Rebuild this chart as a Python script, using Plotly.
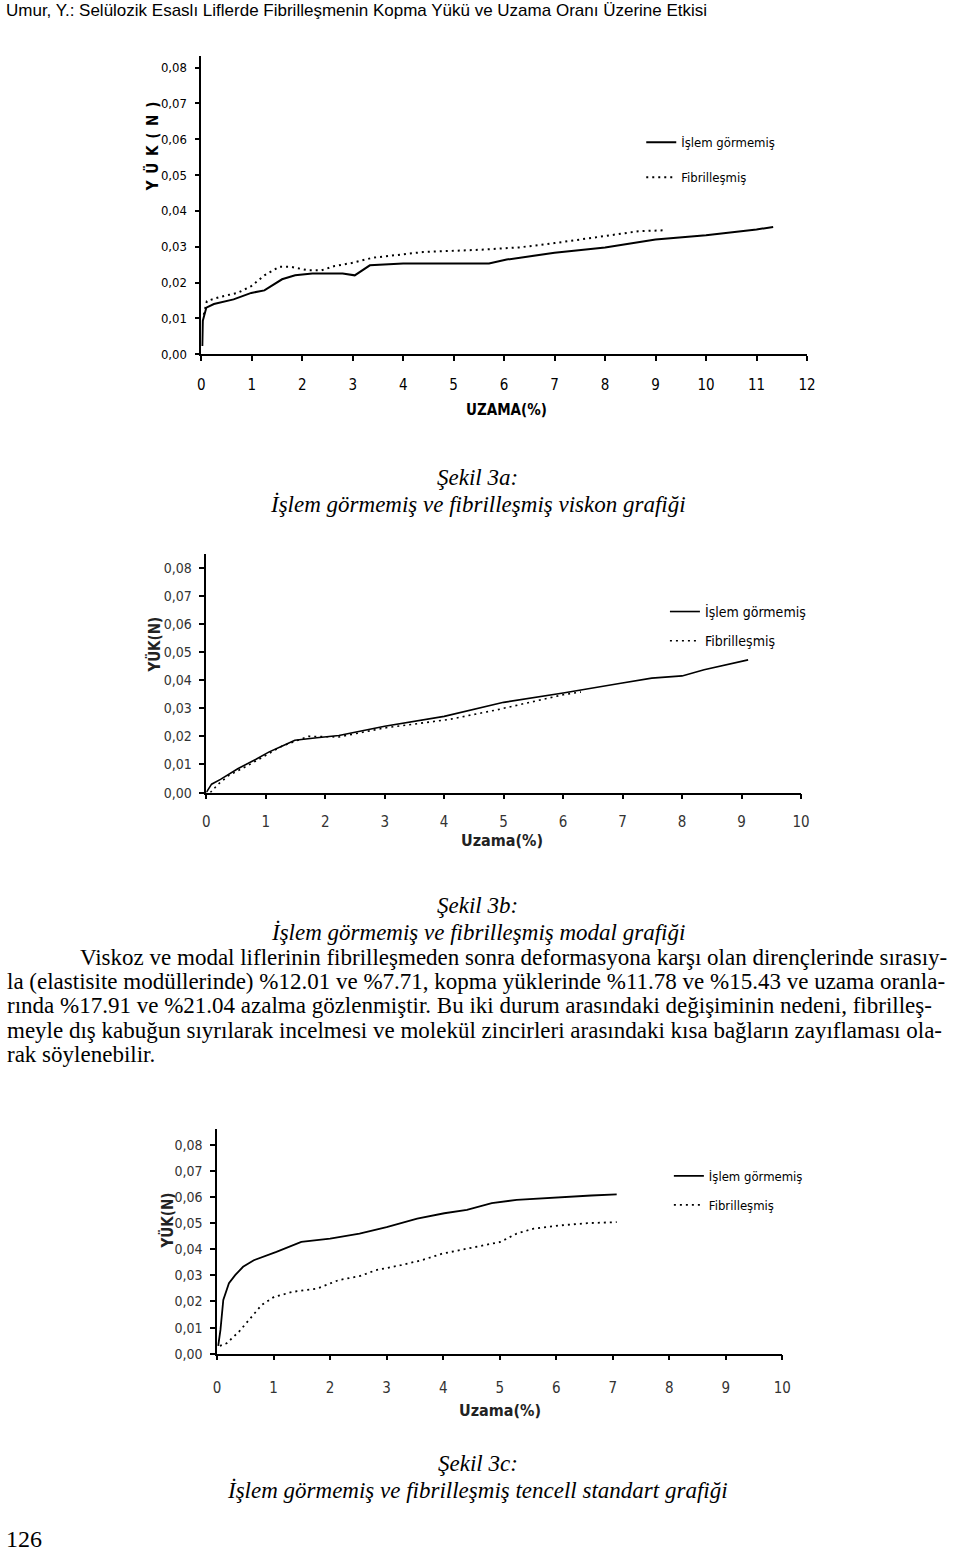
import plotly.graph_objects as go

# ---------------- DATA ----------------
# Şekil 3a – viskon
a_x_islem = [0.02, 0.03, 0.1, 0.25, 0.64, 0.99, 1.25, 1.6, 1.86, 2.2, 2.8, 3.04, 3.34, 4.0, 5.7, 6.05, 7.0, 8.0, 9.0, 10.0, 11.0, 11.33]
a_y_islem = [0.0023, 0.0093, 0.013, 0.014, 0.0153, 0.0171, 0.0178, 0.0209, 0.022, 0.0225, 0.0225, 0.022, 0.0248, 0.0253, 0.0253, 0.0264, 0.0283, 0.0298, 0.032, 0.0332, 0.0348, 0.0355]
a_x_fib = [0.05, 0.11, 0.375, 0.72, 0.99, 1.25, 1.55, 1.77, 2.12, 2.38, 2.64, 3.0, 3.39, 3.87, 4.39, 5.6, 6.3, 7.0, 7.7, 8.23, 8.66, 9.19]
a_y_fib = [0.011, 0.0148, 0.016, 0.0171, 0.019, 0.022, 0.0244, 0.0244, 0.0234, 0.0234, 0.0246, 0.0255, 0.0269, 0.0276, 0.0285, 0.0292, 0.0298, 0.031, 0.0324, 0.0335, 0.0343, 0.0346]

# Şekil 3b – modal
b_x_islem = [0.0, 0.09, 0.24, 0.53, 0.83, 1.05, 1.27, 1.49, 1.86, 2.23, 3.0, 4.0, 5.0, 6.0, 6.97, 7.49, 8.0, 8.37, 9.11]
b_y_islem = [0.0, 0.003, 0.0047, 0.0085, 0.0118, 0.0144, 0.0165, 0.0186, 0.0195, 0.0203, 0.0236, 0.0271, 0.0321, 0.0354, 0.0389, 0.0407, 0.0415, 0.0437, 0.0472]
b_x_fib = [0.07, 0.2, 0.38, 0.68, 0.98, 1.27, 1.72, 2.23, 3.0, 4.08, 4.9, 6.0, 6.3]
b_y_fib = [0.0, 0.003, 0.0061, 0.0094, 0.013, 0.0165, 0.02, 0.0198, 0.023, 0.026, 0.0295, 0.0348, 0.0358]

# Şekil 3c – tencell standart
c_x_islem = [0.02, 0.06, 0.11, 0.21, 0.32, 0.46, 0.65, 0.87, 1.05, 1.49, 2.0, 2.52, 3.0, 3.54, 4.02, 4.42, 4.86, 5.3, 5.89, 6.62, 7.07]
c_y_islem = [0.003, 0.0091, 0.0206, 0.027, 0.0301, 0.0333, 0.0358, 0.0375, 0.039, 0.0428, 0.0441, 0.046, 0.0485, 0.0517, 0.0538, 0.0551, 0.0577, 0.0589, 0.0597, 0.0606, 0.061]
c_x_fib = [0.05, 0.17, 0.39, 0.61, 0.79, 1.01, 1.34, 1.78, 2.15, 2.52, 2.81, 3.25, 3.62, 3.98, 4.42, 5.01, 5.3, 5.6, 6.04, 6.55, 7.07]
c_y_fib = [0.003, 0.004, 0.0085, 0.0142, 0.0187, 0.0218, 0.0237, 0.025, 0.0282, 0.0297, 0.032, 0.0339, 0.0358, 0.0383, 0.0403, 0.0428, 0.046, 0.0479, 0.0491, 0.05, 0.0504]

y_tickvals = [0.00, 0.01, 0.02, 0.03, 0.04, 0.05, 0.06, 0.07, 0.08]
series_names = ["İşlem görmemiş", "Fibrilleşmiş"]

header_text = "Umur, Y.: Selülozik Esaslı Liflerde Fibrilleşmenin Kopma Yükü ve Uzama Oranı Üzerine Etkisi"
captions = [
    ("Şekil 3a:", "İşlem görmemiş ve fibrilleşmiş viskon grafiği"),
    ("Şekil 3b:", "İşlem görmemiş ve fibrilleşmiş modal grafiği"),
    ("Şekil 3c:", "İşlem görmemiş ve fibrilleşmiş tencell standart grafiği"),
]
paragraph_lines = [
    "Viskoz ve modal liflerinin fibrilleşmeden sonra deformasyona karşı olan dirençlerinde sırasıy-",
    "la (elastisite modüllerinde) %12.01 ve %7.71, kopma yüklerinde %11.78 ve %15.43 ve uzama oranla-",
    "rında %17.91 ve %21.04 azalma gözlenmiştir. Bu iki durum arasındaki değişiminin nedeni, fibrilleş-",
    "meyle dış kabuğun sıyrılarak incelmesi ve molekül zincirleri arasındaki kısa bağların zayıflaması ola-",
    "rak söylenebilir.",
]
page_number = "126"

# ---------------- LAYOUT HELPERS ----------------
W, H = 960, 1559
def px(x):
    return x / W
def py(y):
    return 1 - y / H

SERIF = "Liberation Serif, Times New Roman, serif"
NARROW = "DejaVu Sans Condensed, Liberation Sans Narrow, Arial Narrow, sans-serif"
SANS = "Liberation Sans, Arial, sans-serif"

fig = go.Figure()

panels = [
    dict(x1=a_x_islem, y1=a_y_islem, x2=a_x_fib, y2=a_y_fib, xax="x", yax="y", leg="legend", lw=2.0),
    dict(x1=b_x_islem, y1=b_y_islem, x2=b_x_fib, y2=b_y_fib, xax="x2", yax="y2", leg="legend2", lw=1.6),
    dict(x1=c_x_islem, y1=c_y_islem, x2=c_x_fib, y2=c_y_fib, xax="x3", yax="y3", leg="legend3", lw=1.8),
]
for i, p in enumerate(panels):
    fig.add_trace(go.Scatter(x=p["x1"], y=p["y1"], mode="lines", name=series_names[0],
                             line=dict(color="black", width=p["lw"]),
                             xaxis=p["xax"], yaxis=p["yax"], legend=p["leg"], legendgroup=f"s{i}a"))
    fig.add_trace(go.Scatter(x=p["x2"], y=p["y2"], mode="lines", name=series_names[1],
                             line=dict(color="black", width=p["lw"], dash="2px,4px"),
                             xaxis=p["xax"], yaxis=p["yax"], legend=p["leg"], legendgroup=f"s{i}b"))

def xaxis_cfg(dom, rng, font, standoff, anchor):
    return dict(domain=dom, range=rng, showline=True, linecolor="black", linewidth=1.5,
                ticks="outside", ticklen=5, tickcolor="black", tickwidth=1.5, dtick=1, tick0=0,
                showgrid=False, zeroline=False, tickfont=font, ticklabelstandoff=standoff,
                anchor=anchor, fixedrange=True)

def yaxis_cfg(dom, rng, font, anchor):
    return dict(domain=dom, range=rng, showline=True, linecolor="black", linewidth=1.5,
                ticks="outside", ticklen=5, tickcolor="black", tickwidth=1.5,
                tickvals=y_tickvals, tickformat=".2f", showgrid=False, zeroline=False,
                tickfont=font, ticklabelstandoff=5, anchor=anchor, fixedrange=True)

fx1 = dict(family=NARROW, size=15, color="black")
fy1 = dict(family=NARROW, size=13, color="black")
fx2 = dict(family=NARROW, size=15, color="#333")
fy2 = dict(family=NARROW, size=14, color="#333")

layout = dict(
    width=W, height=H, margin=dict(l=0, r=0, t=0, b=0),
    paper_bgcolor="white", plot_bgcolor="white", separators=",.",
    xaxis=xaxis_cfg([px(200), px(814)], [0, 12], fx1, 11, "y"),
    yaxis=yaxis_cfg([py(356), py(56)], [0, 0.0833], fy1, "x"),
    xaxis2=xaxis_cfg([px(205), px(808)], [0, 10], fx2, 10, "y2"),
    yaxis2=yaxis_cfg([py(796.7), py(557)], [0, 0.0848], fy2, "x2"),
    xaxis3=xaxis_cfg([px(216), px(789)], [0, 10], fx2, 15, "y3"),
    yaxis3=yaxis_cfg([py(1360.7), py(1135)], [0, 0.086], fy2, "x3"),
    showlegend=True,
)

def legend_cfg(x, y, size, gap):
    return dict(x=px(x), y=py(y), xanchor="left", yanchor="top", bgcolor="rgba(0,0,0,0)",
                font=dict(family=NARROW, size=size, color="black"),
                traceorder="grouped", tracegroupgap=gap, itemclick=False, itemdoubleclick=False)

layout["legend"] = legend_cfg(646, 128, 13, 15)
layout["legend2"] = legend_cfg(670, 599, 14, 8)
layout["legend3"] = legend_cfg(674, 1167, 13, 9)
fig.update_layout(**layout)

ann = []
# header
ann.append(dict(text=header_text, x=px(0), y=py(11), xanchor="left", yanchor="middle",
                font=dict(family=SANS, size=17, color="black")))
# axis titles
ann.append(dict(text="<b>Y\u2002Ü\u2002K\u2002(\u2002N\u2002)</b>", x=px(150), y=py(147), textangle=-90,
                xanchor="center", yanchor="middle", font=dict(family=NARROW, size=15, color="black")))
ann.append(dict(text="<b>UZAMA(%)</b>", x=px(509), y=py(412), xanchor="center", yanchor="middle",
                font=dict(family=NARROW, size=15, color="black")))
ann.append(dict(text="<b>YÜK(N)</b>", x=px(153), y=py(648), textangle=-90, xanchor="center", yanchor="middle",
                font=dict(family=NARROW, size=15, color="#222")))
ann.append(dict(text="<b>Uzama(%)</b>", x=px(505), y=py(845), xanchor="center", yanchor="middle",
                font=dict(family=NARROW, size=16, color="#222")))
ann.append(dict(text="<b>YÜK(N)</b>", x=px(166), y=py(1227), textangle=-90, xanchor="center", yanchor="middle",
                font=dict(family=NARROW, size=15, color="#222")))
ann.append(dict(text="<b>Uzama(%)</b>", x=px(503), y=py(1418), xanchor="center", yanchor="middle",
                font=dict(family=NARROW, size=16, color="#222")))
# captions
cap_y = [(480, 507), (910, 937), (1471, 1498)]
for (l1, l2), (y1, y2) in zip(captions, cap_y):
    ann.append(dict(text=f"<i>{l1}</i>", x=0.5, y=py(y1), xanchor="center", yanchor="middle",
                    font=dict(family=SERIF, size=23, color="black")))
    ann.append(dict(text=f"<i>{l2}</i>", x=0.5, y=py(y2), xanchor="center", yanchor="middle",
                    font=dict(family=SERIF, size=23, color="black")))
# paragraph
para_y = [962, 986.5, 1011, 1035.5, 1060]
for i, (line, yy) in enumerate(zip(paragraph_lines, para_y)):
    ann.append(dict(text=line, x=px(75 if i == 0 else 1), y=py(yy), xanchor="left", yanchor="middle",
                    font=dict(family=SERIF, size=23, color="black")))
# page number
ann.append(dict(text=page_number, x=px(0), y=py(1547), xanchor="left", yanchor="middle",
                font=dict(family=SERIF, size=24, color="black")))

for a in ann:
    a.update(xref="paper", yref="paper", showarrow=False)
fig.update_layout(annotations=ann)

fig.write_html("out.html", config={"displayModeBar": False})
